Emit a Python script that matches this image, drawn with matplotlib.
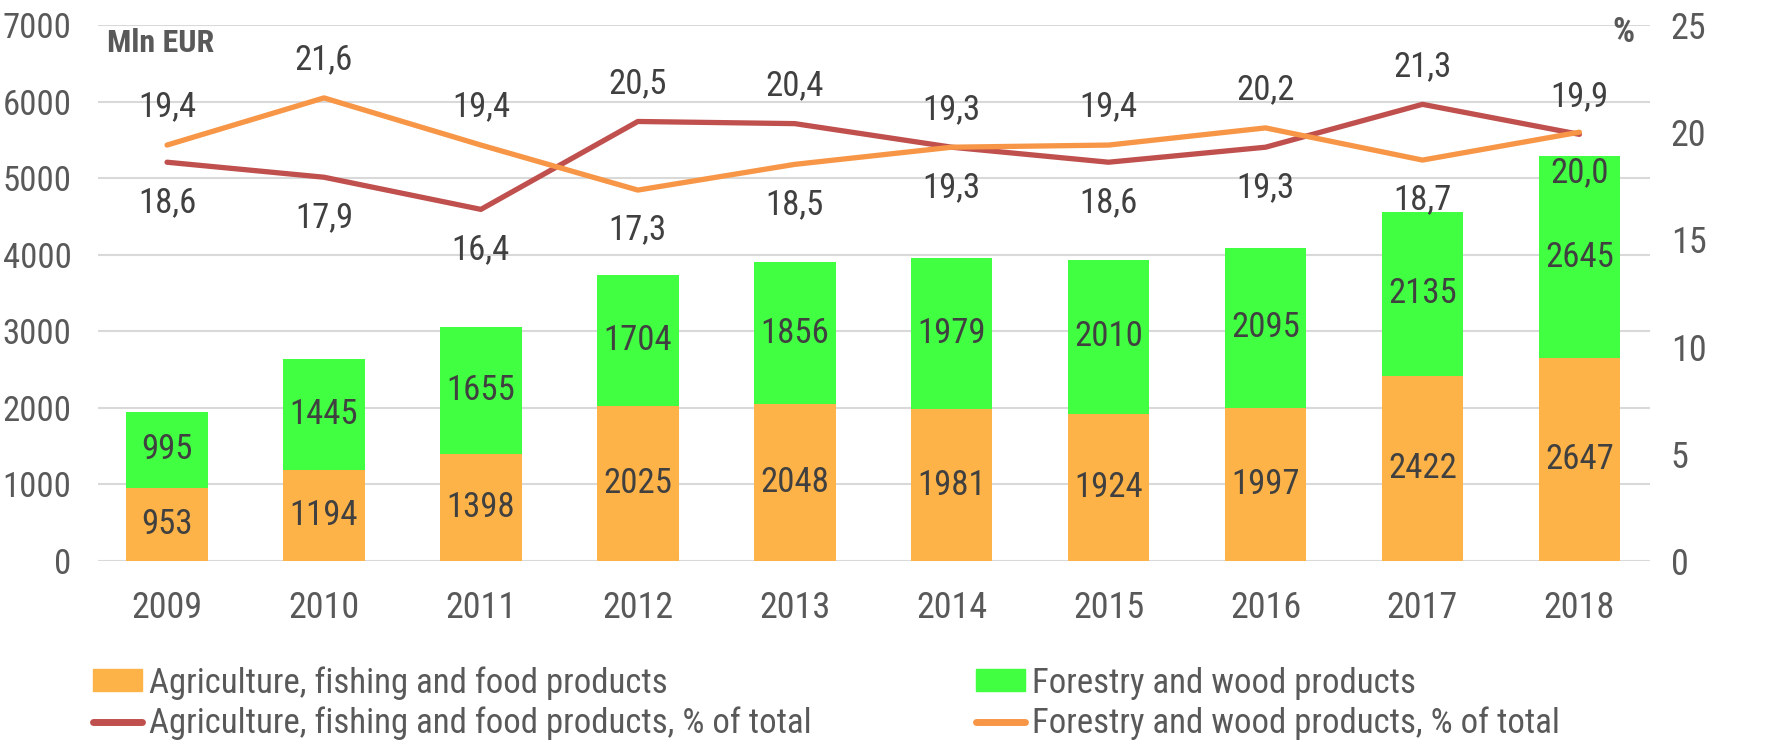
import matplotlib
matplotlib.use("Agg")
import matplotlib.pyplot as plt
from matplotlib.patches import Patch
from matplotlib.lines import Line2D
import numpy as np

plt.rcParams['font.family'] = ['Roboto Condensed', 'DejaVu Sans']

years = ['2009', '2010', '2011', '2012', '2013', '2014', '2015', '2016', '2017', '2018']
agri = [953, 1194, 1398, 2025, 2048, 1981, 1924, 1997, 2422, 2647]
forest = [995, 1445, 1655, 1704, 1856, 1979, 2010, 2095, 2135, 2645]
agri_pct = [18.6, 17.9, 16.4, 20.5, 20.4, 19.3, 18.6, 19.3, 21.3, 19.9]
forest_pct = [19.4, 21.6, 19.4, 17.3, 18.5, 19.3, 19.4, 20.2, 18.7, 20.0]
agri_pct_pos = ['below', 'below', 'below', 'above', 'above', 'above', 'below', 'below', 'above', 'above']
forest_pct_pos = ['above', 'above', 'above', 'below', 'below', 'below', 'above', 'above', 'below', 'below']

left_ticks = [0, 1000, 2000, 3000, 4000, 5000, 6000, 7000]
right_ticks = [0, 5, 10, 15, 20, 25]

c_agri = '#FDB347'
c_forest = '#41FF41'
c_agri_line = '#C0504D'
c_forest_line = '#F79646'
c_text = '#404040'
c_tick = '#595959'
c_grid = '#D9D9D9'

FS = 25

W, H = 1787, 744
fig = plt.figure(figsize=(W / 100, H / 100), dpi=100)
ax = fig.add_axes([98 / W, 1 - 561 / H, (1650 - 98) / W, (561 - 25) / H])

x = np.arange(len(years))
bw = 0.52
ax.bar(x, agri, bw, color=c_agri, zorder=2)
ax.bar(x, forest, bw, bottom=agri, color=c_forest, zorder=2)

for i in range(len(years)):
    ax.text(x[i], agri[i] / 2, str(agri[i]), ha='center', va='center', fontsize=FS, color=c_text, zorder=3)
    ax.text(x[i], agri[i] + forest[i] / 2, str(forest[i]), ha='center', va='center', fontsize=FS, color=c_text, zorder=3)

ax.set_ylim(0, 7000)
ax.set_yticks(left_ticks)
ax.set_xlim(-0.44, 9.45)
ax.set_xticks(x)
ax.set_xticklabels(years)
ax.grid(axis='y', color=c_grid, linewidth=1.5, zorder=0)
ax.set_axisbelow(True)
for s in ax.spines.values():
    s.set_visible(False)
ax.tick_params(axis='both', length=0, labelsize=25, colors=c_tick)
ax.tick_params(axis='y', pad=19)
ax.tick_params(axis='x', labelsize=26, pad=21)

ax2 = ax.twinx()
ax2.set_ylim(0, 25)
ax2.set_yticks(right_ticks)
for s in ax2.spines.values():
    s.set_visible(False)
ax2.tick_params(axis='y', length=0, labelsize=26, colors=c_tick, pad=15)

ax2.plot(x, agri_pct, color=c_agri_line, linewidth=3.8, solid_capstyle='round', zorder=4)
ax2.plot(x, forest_pct, color=c_forest_line, linewidth=3.8, solid_capstyle='round', zorder=5)

def fmt(v):
    return ('%.1f' % v).replace('.', ',')

for vals, poss in ((agri_pct, agri_pct_pos), (forest_pct, forest_pct_pos)):
    for i, (v, p) in enumerate(zip(vals, poss)):
        off = 38 if p == 'above' else -40
        ax2.annotate(fmt(v), (x[i], v), xytext=(0, off * 72 / 100), textcoords='offset points',
                     ha='center', va='center', fontsize=FS, color=c_text, zorder=6)

fig.text(107 / W, 1 - 43 / H, 'Mln EUR', fontsize=23, fontweight='bold', color=c_tick, ha='left', va='center')
fig.text(1623 / W, 1 - 33 / H, '%', fontsize=25, fontweight='bold', color=c_tick, ha='center', va='center')

handles = [Patch(color=c_agri), Line2D([], [], color=c_agri_line, linewidth=5, solid_capstyle='round'),
           Patch(color=c_forest), Line2D([], [], color=c_forest_line, linewidth=5, solid_capstyle='round')]
labels = ['Agriculture, fishing and food products', 'Agriculture, fishing and food products, % of total',
          'Forestry and wood products', 'Forestry and wood products, % of total']
leg = fig.legend(handles, labels, ncol=2, loc='upper left', bbox_to_anchor=(93 / W, 1 - 666 / H),
                 frameon=False, fontsize=FS, handlelength=1.4, handleheight=0.6, handletextpad=0.2,
                 columnspacing=4.75, labelspacing=0.2, borderaxespad=0, borderpad=0)
for t in leg.get_texts():
    t.set_color(c_tick)

fig.savefig('out.png', dpi=100)
